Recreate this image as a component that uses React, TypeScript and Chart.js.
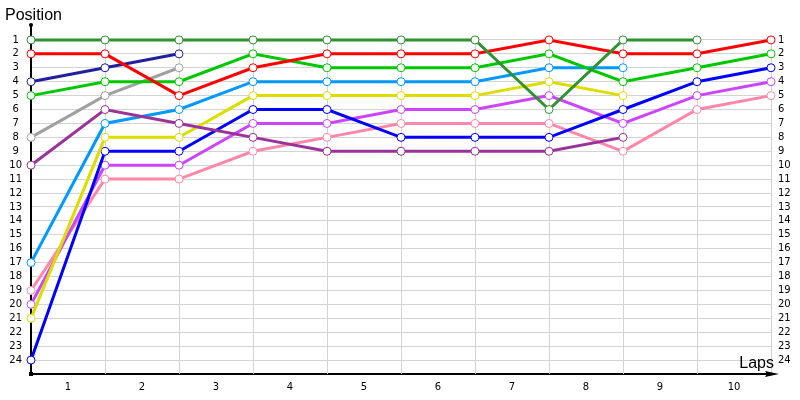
import { useEffect, useRef } from "react"
import { Chart, registerables } from "chart.js"

Chart.register(...registerables)

// x = 0 is the grid, x = n is the end of lap n
const lapMarks = [0, 1, 2, 3, 4, 5, 6, 7, 8, 9, 10]

const darkGreen = [1, 1, 1, 1, 1, 1, 1, 6, 1, 1, null]
const red = [2, 2, 5, 3, 2, 2, 2, 1, 2, 2, 1]
const navy = [4, 3, 2, null, null, null, null, null, null, null, null]
const green = [5, 4, 4, 2, 3, 3, 3, 2, 4, 3, 2]
const gray = [8, 5, 3, null, null, null, null, null, null, null, null]
const purple = [10, 6, 7, 8, 9, 9, 9, 9, 8, null, null]
const skyBlue = [17, 7, 6, 4, 4, 4, 4, 3, 3, null, null]
const yellow = [21, 8, 8, 5, 5, 5, 5, 4, 5, null, null]
const blue = [24, 9, 9, 6, 6, 8, 8, 8, 6, 4, 3]
const violet = [20, 10, 10, 7, 7, 6, 6, 5, 7, 5, 4]
const pink = [19, 11, 11, 9, 8, 7, 7, 7, 9, 6, 5]

const series = [
  { data: darkGreen, color: "#2e922e" },
  { data: red, color: "#ff0000" },
  { data: navy, color: "#1f1fa0" },
  { data: green, color: "#00c800" },
  { data: gray, color: "#a0a0a0" },
  { data: purple, color: "#993399" },
  { data: skyBlue, color: "#0099ff" },
  { data: yellow, color: "#dddd00" },
  { data: blue, color: "#0000ff" },
  { data: violet, color: "#cc44ff" },
  { data: pink, color: "#ff88aa" },
]

const FIRST_POS = 1
const LAST_POS = 24
const GRID = "#d3d3d3"
const TICK_FONT = { family: "'DejaVu Sans', sans-serif", size: 10 }

// axis decorations: vertical grid, arrow, dots and the two captions
const lapChartDecor = {
  id: "lapChartDecor",
  beforeDatasetsDraw(chart: any) {
    const { ctx, chartArea, scales } = chart
    const yTop = scales.y.getPixelForValue(FIRST_POS)
    ctx.save()
    ctx.strokeStyle = GRID
    ctx.lineWidth = 1
    for (const v of lapMarks) {
      if (v === 0) continue
      const x = Math.round(scales.x.getPixelForValue(v)) + 0.5
      ctx.beginPath()
      ctx.moveTo(x, yTop)
      ctx.lineTo(x, chartArea.bottom)
      ctx.stroke()
    }
    ctx.restore()
  },
  afterDraw(chart: any) {
    const { ctx, chartArea } = chart
    const { left, right, top, bottom } = chartArea
    ctx.save()
    ctx.fillStyle = "#000"
    ctx.strokeStyle = "#000"
    ctx.lineWidth = 2
    // x axis arrow
    ctx.beginPath()
    ctx.moveTo(right - 2, bottom)
    ctx.lineTo(right + 4, bottom)
    ctx.stroke()
    ctx.beginPath()
    ctx.moveTo(right + 8, bottom)
    ctx.lineTo(right - 6, bottom - 3)
    ctx.lineTo(right - 4, bottom)
    ctx.lineTo(right - 6, bottom + 3)
    ctx.closePath()
    ctx.fill()
    // dots
    ctx.beginPath()
    ctx.arc(left, top - 1, 2, 0, Math.PI * 2)
    ctx.fill()
    ctx.fillRect(left - 2, bottom - 2, 4, 4)
    // captions
    ctx.font = "16px 'Liberation Sans', sans-serif"
    ctx.textBaseline = "alphabetic"
    ctx.textAlign = "left"
    ctx.fillText("Position", 5, 20)
    ctx.textAlign = "right"
    ctx.fillText("Laps", right + 3, bottom - 6)
    ctx.restore()
  },
}

const posTicks = {
  stepSize: 1,
  autoSkip: false,
  color: "#000",
  font: TICK_FONT,
  callback: (v: any) => (v >= FIRST_POS && v <= LAST_POS ? String(v) : ""),
}

export default function App() {
  const canvasRef = useRef<HTMLCanvasElement | null>(null)

  useEffect(() => {
    document.body.style.margin = "0"
    if (!canvasRef.current) return
    const ctx = canvasRef.current.getContext("2d")
    if (!ctx) return

    const chart = new Chart(ctx, {
      type: "line",
      data: {
        labels: lapMarks,
        datasets: series.map((s) => ({
          data: s.data,
          borderColor: s.color,
          backgroundColor: s.color,
          borderWidth: 3,
          tension: 0,
          spanGaps: false,
          clip: false,
          pointRadius: 4,
          pointBorderWidth: 1,
          pointBackgroundColor: "#fff",
          pointBorderColor: s.color,
        })),
      },
      options: {
        responsive: false,
        animation: false,
        layout: { padding: { top: 26 } },
        plugins: {
          legend: { display: false },
          tooltip: { enabled: false },
          title: { display: false },
        },
        scales: {
          x: {
            type: "linear",
            min: 0,
            max: 10,
            grid: { display: false, drawTicks: false },
            border: { display: true, color: "#000", width: 2 },
            ticks: {
              stepSize: 0.5,
              autoSkip: false,
              maxRotation: 0,
              padding: 7,
              color: "#000",
              font: TICK_FONT,
              callback: (v: any) => (Number.isInteger(v) ? "" : String(v + 0.5)),
            },
            afterFit: (scale: any) => {
              scale.height = 26
            },
          },
          y: {
            type: "linear",
            reverse: true,
            min: 0,
            max: 25,
            grid: {
              drawTicks: false,
              color: (c: any) =>
                c.tick && c.tick.value >= FIRST_POS && c.tick.value <= LAST_POS ? GRID : "transparent",
            },
            border: { display: true, color: "#000", width: 2 },
            ticks: { ...posTicks, crossAlign: "center", padding: 9 },
            afterFit: (scale: any) => {
              scale.width = 31
            },
          },
          yRight: {
            type: "linear",
            position: "right",
            reverse: true,
            min: 0,
            max: 25,
            grid: { display: false, drawTicks: false },
            border: { display: false },
            ticks: { ...posTicks, padding: 7 },
            afterFit: (scale: any) => {
              scale.width = 29
            },
          },
        },
      },
      plugins: [lapChartDecor],
    })

    return () => {
      chart.destroy()
    }
  }, [])

  return (
    <div style={{ width: 800, height: 400 }}>
      <canvas ref={canvasRef} width={800} height={400} style={{ display: "block" }}></canvas>
    </div>
  )
}
